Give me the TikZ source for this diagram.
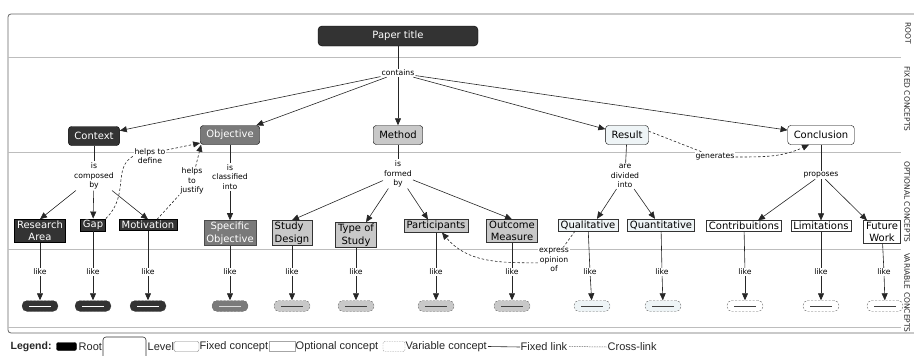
\documentclass[tikz,border=0pt]{standalone}
\usepackage{fontspec}
\setmainfont{DejaVu Sans}
\newfontfamily\legfont{Liberation Sans}
\usetikzlibrary{arrows.meta,calc}
\definecolor{cdark}{HTML}{333333}
\definecolor{cobj}{HTML}{7A7A7A}
\definecolor{cmeth}{HTML}{C8C8C8}
\definecolor{cres}{HTML}{EEF4F6}
\definecolor{csep}{HTML}{BDBDBD}
\begin{document}
\begin{tikzpicture}[x=1pt,y=-1pt,
  ln/.style={draw=black!85, line width=0.6pt},
  fl/.style={ln, -{Triangle[length=7pt,width=6pt]}},
  cl/.style={draw=black!85, line width=0.6pt, dash pattern=on 2.5pt off 2pt},
  cla/.style={cl, -{Triangle[length=7pt,width=6pt]}},
  rootc/.style={draw=black, fill=cdark, text=white, rounded corners=4pt,
    minimum width=160pt, minimum height=20pt, font=\fontsize{10}{12}\selectfont},
  fixedc/.style={draw=black, rounded corners=3pt, minimum height=19pt,
    inner xsep=6pt, inner ysep=1pt, font=\fontsize{10}{12}\selectfont},
  optc/.style={draw=black!80, inner xsep=2.5pt, inner ysep=1.5pt, align=center,
    font=\fontsize{10}{12.5}\selectfont},
  varc/.style={draw=black!60, dash pattern=on 2pt off 1.5pt, rounded corners=5pt,
    minimum width=36pt, minimum height=11pt, inner sep=0pt},
  lbl/.style={fill=white, inner sep=1pt, align=center,
    font=\fontsize{7.7}{9.6}\selectfont},
  lvl/.style={rotate=-90, inner sep=0pt, font=\fontsize{7.5}{9}\selectfont, text=black!85},
  leg/.style={anchor=west, inner sep=0.5pt, font=\legfont\fontsize{11}{13}\selectfont, text=black!85}
]
\useasboundingbox (0,0) rectangle (914,356);
% frame and level bands
\begin{scope}
  \clip (0,0) rectangle (914,356);
  \draw[black!60, line width=0.8pt, rounded corners=3pt] (8,14) rectangle (930,333);
\end{scope}
\foreach \yy in {57,152,249,327} \draw[csep, line width=0.6pt] (8,\yy) -- (901,\yy);
\node[lvl] (lvroot) at (908,33) {ROOT};
\node[lvl] (lvfix) at (907,99) {FIXED CONCEPTS};
\node[lvl] (lvopt) at (907,202) {OPTIONAL CONCEPTS};
\node[lvl] (lvvar) at (907,293) {VARIABLE CONCEPTS};

% root and fixed concepts
\node[rootc] (title) at (398,36) {Paper title};
\node[lbl] (contains) at (398,73) {contains};
\node[fixedc, fill=cdark, text=white] (context) at (94,136) {Context};
\node[fixedc, fill=cobj, text=white] (objective) at (230,135) {Objective};
\node[fixedc, fill=cmeth] (method) at (398,135) {Method};
\node[fixedc, fill=cres] (result) at (627,135) {Result};
\node[fixedc, fill=white] (conclusion) at (821,135) {Conclusion};

% link labels
\node[lbl] (composed) at (94,176) {is\\composed\\by};
\node[lbl] (classified) at (230,177) {is\\classified\\into};
\node[lbl] (formed) at (398,174) {is\\formed\\by};
\node[lbl] (divided) at (625,176) {are\\divided\\into};
\node[lbl] (proposes) at (821,175) {proposes};

% optional concepts
\node[optc, fill=cdark, text=white, draw=black] (ra) at (40,231) {Research\\Area};
\node[optc, fill=cdark, text=white, draw=black] (gap) at (93,225) {Gap};
\node[optc, fill=cdark, text=white, draw=black] (mot) at (148,225) {Motivation};
\node[optc, fill=cobj, text=white, draw=black!70] (so) at (230,233) {Specific\\Objective};
\node[optc, fill=cmeth, align=left] (sd) at (292,233) {Study\\Design};
\node[optc, fill=cmeth] (ts) at (356,235) {Type of\\Study};
\node[optc, fill=cmeth] (part) at (436,226) {Participants};
\node[optc, fill=cmeth] (om) at (512,231) {Outcome\\Measure};
\node[optc, fill=cres] (qual) at (588,225) {Qualitative};
\node[optc, fill=cres] (quan) at (661,225) {Quantitative};
\node[optc, fill=white] (contr) at (744,226) {Contribuitions};
\node[optc, fill=white] (lim) at (821,226) {Limitations};
\node[optc, fill=white] (fw) at (882,232) {Future\\Work};

% like labels and variable concepts
\foreach \nm/\xx/\px/\fc/\lc in {ra/40/40/cdark/white, gap/93/93/cdark/white, mot/148/148/cdark/white,
  so/230/230/cobj/white!85!black, sd/292/292/cmeth/black!75, ts/356/356/cmeth/black!75,
  part/436/436/cmeth/black!75, om/512/512/cmeth/black!75, qual/590/592/cres/black!75,
  quan/662/663/cres/black!75, contr/745/745/white/black!75, lim/821/821/white/black!75,
  fw/884/885/white/black!75}{
  \node[lbl] (like-\nm) at (\xx,272) {like};
  \node[varc, fill=\fc, text=\lc] (var-\nm) at (\px,306) {\rule{22pt}{0.5pt}};
  \draw[ln] (\nm) -- (like-\nm);
  \draw[fl] (like-\nm) -- (var-\nm);
}

% fixed links
\draw[ln] (title) -- (contains);
\foreach \t in {context,objective,method,result,conclusion} \draw[fl] (contains) -- (\t);
\draw[ln] (context) -- (composed);
\draw[fl] (composed) -- (ra.north);
\draw[fl] (composed) -- (gap);
\draw[fl] (composed) -- (mot.north);
\draw[ln] (objective) -- (classified);
\draw[fl] (classified) -- (so);
\draw[ln] (method) -- (formed);
\draw[fl] (formed) -- (sd.north);
\draw[fl] (formed) -- ($(ts.north)+(10,0)$);
\draw[fl] (formed) -- ($(part.north)+(-8,0)$);
\draw[fl] (formed) -- (om.north);
\draw[ln] (result) -- (divided);
\draw[fl] (divided) -- ($(qual.north)+(9,0)$);
\draw[fl] (divided) -- ($(quan.north)+(-6,0)$);
\draw[ln] (conclusion) -- (proposes);
\draw[fl] (proposes) -- ($(contr.north)+(14,0)$);
\draw[fl] (proposes) -- (lim);
\draw[fl] (proposes) -- ($(fw.north)+(-15,0)$);

% cross-links
\node[lbl] (hdef) at (150,156) {helps to\\define};
\draw[cl] (gap.north east) .. controls (130,195) and (112,168) .. (hdef.west);
\draw[cla] (hdef.20) -- (objective.195);
\node[lbl] (hjus) at (192,181) {helps\\to\\justify};
\draw[cl] ($(mot.north)+(9,0)$) -- (hjus);
\draw[cla] (hjus) -- ($(objective.south west)+(1,0)$);
\node[lbl] (gen) at (715,157) {generates};
\draw[cl] (result.10) -- (gen);
\draw[cla] (gen.east) to[out=0,in=205] ($(conclusion.south)+(-12,0)$);
\node[lbl] (expr) at (554,260) {express\\opinion\\of};
\draw[cl] ($(qual.south)+(-13,0)$) -- (expr);
\draw[cla] (expr.190) to[out=180,in=-50] ($(part.south)+(6,0)$);

% legend
\node[leg, font=\legfont\bfseries\fontsize{10.5}{13}\selectfont] (lg) at (10,347) {Legend:};
\node[fill=black, draw=black, rounded corners=2pt, minimum width=20pt, minimum height=8pt, inner sep=0pt] (lgroot) at (66.5,346.5) {};
\node[leg] (lgroott) at (78,347) {Root};
\draw[black!80, line width=0.6pt, rounded corners=3pt] (103,360) -- (103,337) -- (146,337) -- (146,360);
\node[leg] (lglevel) at (147,347) {Level};
\node[draw=black!50, rounded corners=2pt, minimum width=25pt, minimum height=10pt, inner sep=0pt] (lgfix) at (186.5,346.5) {};
\node[leg] (lgfixt) at (199,347) {Fixed concept};
\node[draw=black!35, minimum width=26pt, minimum height=10pt, inner sep=0pt] (lgopt) at (282,346.5) {};
\node[leg] (lgoptt) at (295,347) {Optional concept};
\node[draw=black!40, dash pattern=on 1.5pt off 1pt, rounded corners=2pt, minimum width=22pt, minimum height=10pt, inner sep=0pt] (lgvar) at (394,346.5) {};
\node[leg] (lgvart) at (405,347) {Variable concept};
\coordinate (lgfl1) at (488,346.5);
\node[leg] (lgflt) at (520,347) {Fixed link};
\draw[ln] (lgfl1) -- (lgflt.west);
\coordinate (lgcl1) at (569,346.5);
\node[leg] (lgclt) at (607,347) {Cross-link};
\draw[black!60, line width=0.5pt, dash pattern=on 1.5pt off 1pt] (lgcl1) -- (lgclt.west);
\end{tikzpicture}
\end{document}
